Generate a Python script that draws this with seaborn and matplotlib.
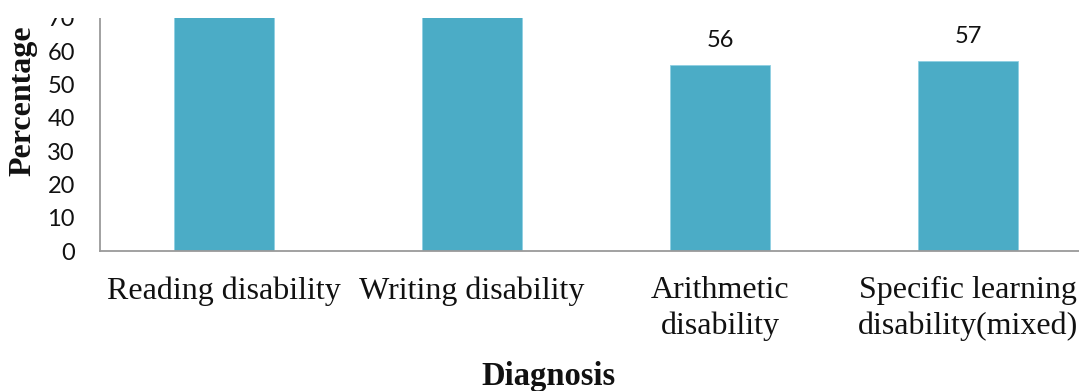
import matplotlib
matplotlib.use("Agg")
import matplotlib.pyplot as plt
import seaborn as sns
import pandas as pd
from matplotlib.patches import Rectangle

# Diagnosis categories and the share of children (%) in each
categories = ["Reading disability", "Writing disability",
              "Arithmetic disability", "Specific learning disability(mixed)"]
tick_labels = ["Reading disability", "Writing disability",
               "Arithmetic\ndisability", "Specific learning\ndisability(mixed)"]
percentages = [81, 75, 56, 57]
y_ticks = [0, 10, 20, 30, 40, 50, 60, 70]

df = pd.DataFrame({"Diagnosis": categories, "Percentage": percentages})

sns.set_theme(style="white")
W, H = 1079, 391
fig = plt.figure(figsize=(W / 100, H / 100), dpi=100)

# plot area in pixel terms: left 100, right 1092, top 18, bottom 251
left, right, top, bottom = 100, 1092, 18, 251
ax = fig.add_axes([left / W, (H - bottom) / H, (right - left) / W, (bottom - top) / H])

bar_color = "#4BACC6"
sns.barplot(data=df, x="Diagnosis", y="Percentage", order=categories,
            color=bar_color, width=0.4, edgecolor="#8fd0e2", linewidth=0.6,
            saturation=1, ax=ax)

num_font = dict(fontfamily="Lato", fontsize=17, color="#111111")

ax.set_ylim(0, 70)
ax.set_xlim(-0.5, len(categories) - 0.5)
ax.set_yticks(y_ticks)
ax.set_yticklabels([str(v) for v in y_ticks], **num_font)
ax.set_xticks(range(len(categories)))
ax.set_xticklabels(tick_labels, fontfamily="Liberation Serif", fontsize=23,
                   linespacing=1.28, color="#111111")
ax.tick_params(axis="y", length=0, pad=18)
ax.tick_params(axis="x", length=0, pad=18)
ax.set_xlabel("")
ax.set_ylabel("")

for side in ["top", "right"]:
    ax.spines[side].set_visible(False)
for side in ["left", "bottom"]:
    ax.spines[side].set_color("#9a9a9a")
    ax.spines[side].set_linewidth(1.3)

# value labels above each bar
for i, v in enumerate(percentages):
    ax.annotate(str(v), (i, v), xytext=(0, 10), textcoords="offset points",
                ha="center", va="bottom", clip_on=True, annotation_clip=True,
                **num_font)

fig.text(23 / W, 1 - 101 / H, "Percentage", rotation=90, ha="center", va="center",
         fontfamily="Liberation Serif", fontweight="bold", fontsize=23, color="#111111")
fig.text(548 / W, 1 - 377 / H, "Diagnosis", ha="center", va="center",
         fontfamily="Liberation Serif", fontweight="bold", fontsize=23.5, color="#111111")

# blank band above the plot area
fig.add_artist(Rectangle((0, (H - top) / H), 1, top / H, transform=fig.transFigure,
                         facecolor="white", edgecolor="none", zorder=10))

fig.savefig("out.png", dpi=100)
